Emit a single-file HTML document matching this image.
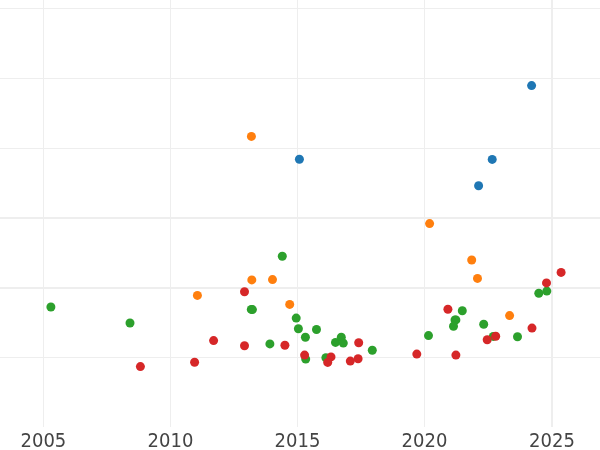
<!DOCTYPE html><html><head><meta charset="utf-8"><title>chart</title><style>html,body{margin:0;padding:0;background:#fff;overflow:hidden}svg{display:block}text{font-family:"DejaVu Sans","Liberation Sans",sans-serif;font-size:18px;fill:#444}</style></head><body>
<svg width="600" height="450" viewBox="0 0 600 450">
<rect width="600" height="450" fill="#fff"/>
<g stroke="#eeeeee" fill="none">
<line x1="43.5" y1="0" x2="43.5" y2="427" stroke-width="1"/>
<line x1="170.5" y1="0" x2="170.5" y2="427" stroke-width="1"/>
<line x1="297.5" y1="0" x2="297.5" y2="427" stroke-width="1"/>
<line x1="424.5" y1="0" x2="424.5" y2="427" stroke-width="1"/>
<line x1="552" y1="0" x2="552" y2="427" stroke-width="2"/>
<line x1="0" y1="8.5" x2="600" y2="8.5" stroke-width="1"/>
<line x1="0" y1="78.5" x2="600" y2="78.5" stroke-width="1"/>
<line x1="0" y1="148.5" x2="600" y2="148.5" stroke-width="1"/>
<line x1="0" y1="218" x2="600" y2="218" stroke-width="2"/>
<line x1="0" y1="288" x2="600" y2="288" stroke-width="2"/>
<line x1="0" y1="357.5" x2="600" y2="357.5" stroke-width="1"/>
</g><g>
<circle cx="531.6" cy="85.6" r="4.5" fill="#1f77b4"/>
<circle cx="299.4" cy="159.2" r="4.5" fill="#1f77b4"/>
<circle cx="492.2" cy="159.4" r="4.5" fill="#1f77b4"/>
<circle cx="478.6" cy="185.8" r="4.5" fill="#1f77b4"/>
<circle cx="251.4" cy="136.4" r="4.5" fill="#ff7f0e"/>
<circle cx="429.6" cy="223.6" r="4.5" fill="#ff7f0e"/>
<circle cx="197.4" cy="295.4" r="4.5" fill="#ff7f0e"/>
<circle cx="251.8" cy="279.9" r="4.5" fill="#ff7f0e"/>
<circle cx="272.5" cy="279.6" r="4.5" fill="#ff7f0e"/>
<circle cx="289.7" cy="304.4" r="4.5" fill="#ff7f0e"/>
<circle cx="471.7" cy="260.0" r="4.5" fill="#ff7f0e"/>
<circle cx="477.5" cy="278.4" r="4.5" fill="#ff7f0e"/>
<circle cx="509.6" cy="315.6" r="4.5" fill="#ff7f0e"/>
<circle cx="50.9" cy="307.0" r="4.5" fill="#2ca02c"/>
<circle cx="130.0" cy="323.0" r="4.5" fill="#2ca02c"/>
<circle cx="282.3" cy="256.3" r="4.5" fill="#2ca02c"/>
<circle cx="251.3" cy="309.4" r="4.5" fill="#2ca02c"/>
<circle cx="252.4" cy="309.6" r="4.5" fill="#2ca02c"/>
<circle cx="296.2" cy="318.1" r="4.5" fill="#2ca02c"/>
<circle cx="298.4" cy="328.8" r="4.5" fill="#2ca02c"/>
<circle cx="305.4" cy="337.2" r="4.5" fill="#2ca02c"/>
<circle cx="269.9" cy="343.9" r="4.5" fill="#2ca02c"/>
<circle cx="316.5" cy="329.5" r="4.5" fill="#2ca02c"/>
<circle cx="335.5" cy="342.4" r="4.5" fill="#2ca02c"/>
<circle cx="341.3" cy="337.3" r="4.5" fill="#2ca02c"/>
<circle cx="343.3" cy="343.1" r="4.5" fill="#2ca02c"/>
<circle cx="372.3" cy="350.3" r="4.5" fill="#2ca02c"/>
<circle cx="305.7" cy="359.1" r="4.5" fill="#2ca02c"/>
<circle cx="325.9" cy="357.7" r="4.5" fill="#2ca02c"/>
<circle cx="462.3" cy="310.8" r="4.5" fill="#2ca02c"/>
<circle cx="455.0" cy="319.9" r="4.5" fill="#2ca02c"/>
<circle cx="455.9" cy="319.9" r="4.5" fill="#2ca02c"/>
<circle cx="453.5" cy="326.3" r="4.5" fill="#2ca02c"/>
<circle cx="428.5" cy="335.6" r="4.5" fill="#2ca02c"/>
<circle cx="483.7" cy="324.3" r="4.5" fill="#2ca02c"/>
<circle cx="517.5" cy="336.7" r="4.5" fill="#2ca02c"/>
<circle cx="493.3" cy="336.4" r="4.5" fill="#2ca02c"/>
<circle cx="538.8" cy="293.2" r="4.5" fill="#2ca02c"/>
<circle cx="546.8" cy="291.1" r="4.5" fill="#2ca02c"/>
<circle cx="244.5" cy="291.7" r="4.5" fill="#d62728"/>
<circle cx="213.6" cy="340.6" r="4.5" fill="#d62728"/>
<circle cx="140.4" cy="366.6" r="4.5" fill="#d62728"/>
<circle cx="194.6" cy="362.2" r="4.5" fill="#d62728"/>
<circle cx="244.5" cy="345.7" r="4.5" fill="#d62728"/>
<circle cx="284.9" cy="345.3" r="4.5" fill="#d62728"/>
<circle cx="358.7" cy="342.7" r="4.5" fill="#d62728"/>
<circle cx="304.6" cy="355.1" r="4.5" fill="#d62728"/>
<circle cx="331.0" cy="356.9" r="4.5" fill="#d62728"/>
<circle cx="327.7" cy="362.4" r="4.5" fill="#d62728"/>
<circle cx="350.3" cy="361.1" r="4.5" fill="#d62728"/>
<circle cx="358.1" cy="358.7" r="4.5" fill="#d62728"/>
<circle cx="447.9" cy="309.3" r="4.5" fill="#d62728"/>
<circle cx="416.8" cy="354.1" r="4.5" fill="#d62728"/>
<circle cx="455.9" cy="355.1" r="4.5" fill="#d62728"/>
<circle cx="532.0" cy="328.1" r="4.5" fill="#d62728"/>
<circle cx="495.7" cy="336.3" r="4.5" fill="#d62728"/>
<circle cx="487.2" cy="339.7" r="4.5" fill="#d62728"/>
<circle cx="561.1" cy="272.4" r="4.5" fill="#d62728"/>
<circle cx="546.5" cy="282.9" r="4.5" fill="#d62728"/>
</g><g text-anchor="middle" style="opacity:0.999;will-change:transform">
<text transform="translate(43.4,447.2) scale(1,1.035)">2005</text>
<text transform="translate(170.5,447.2) scale(1,1.035)">2010</text>
<text transform="translate(297.5,447.2) scale(1,1.035)">2015</text>
<text transform="translate(424.5,447.2) scale(1,1.035)">2020</text>
<text transform="translate(552,447.2) scale(1,1.035)">2025</text>
</g></svg></body></html>
